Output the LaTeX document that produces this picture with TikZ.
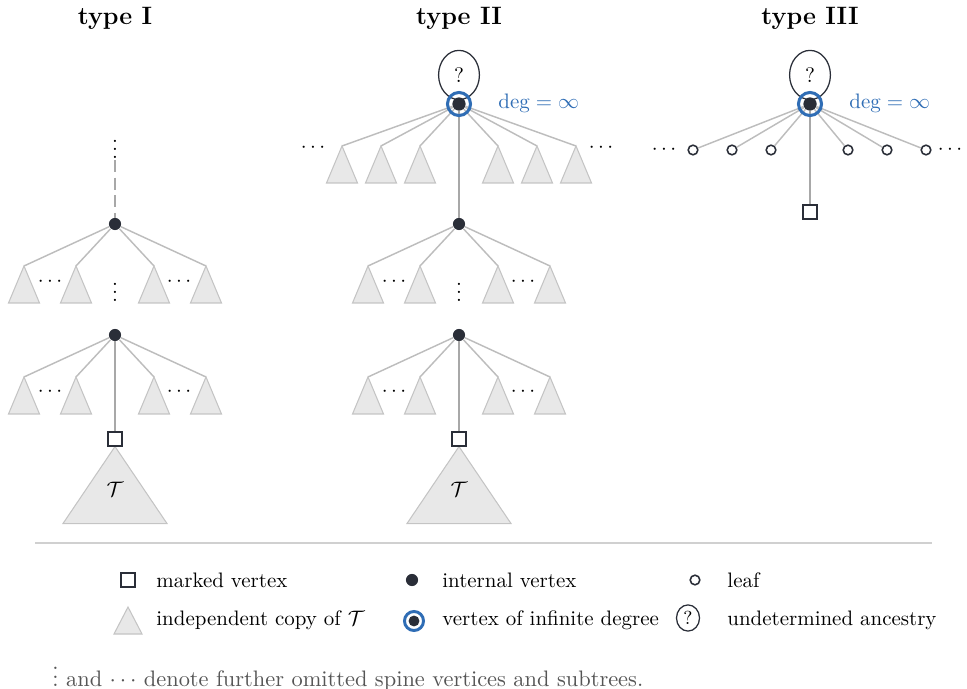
\documentclass[tikz,border=0pt]{standalone}
\usetikzlibrary{shapes.geometric}
\definecolor{edgegray}{HTML}{BDBDBD}
\definecolor{spinegray}{HTML}{A8A8A8}
\definecolor{trifill}{HTML}{E8E8E8}
\definecolor{tridraw}{HTML}{C4C4C4}
\definecolor{nodedark}{HTML}{2A2E38}
\definecolor{infblue}{HTML}{2F6DB5}
\definecolor{notegray}{HTML}{555555}
\definecolor{rulegray}{HTML}{D0D0D0}
\newcommand\subtree[1]{\path[tri] (#1) -- ++(-15.5,37) -- ++(31,0) -- cycle;}
\newcommand\lowerpart[2]{%
  \node[internal] (#2n1) at (#1,224) {};
  \coordinate (#2ta) at (#1-91,266);
  \coordinate (#2tb) at (#1-39,266);
  \coordinate (#2tc) at (#1+39,266);
  \coordinate (#2td) at (#1+91,266);
  \draw[edge] (#2n1) -- (#2ta) (#2n1) -- (#2tb) (#2n1) -- (#2tc) (#2n1) -- (#2td);
  \subtree{#2ta}\subtree{#2tb}\subtree{#2tc}\subtree{#2td}
  \node[dots] at (#1-65,282) {$\cdots$};
  \node[dots] at (#1+64,282) {$\cdots$};
  \node[dots] at (#1,286) {$\vdots$};
  \node[internal] (#2n2) at (#1,335) {};
  \coordinate (#2ua) at (#1-91,377);
  \coordinate (#2ub) at (#1-39,377);
  \coordinate (#2uc) at (#1+39,377);
  \coordinate (#2ud) at (#1+91,377);
  \draw[edge] (#2n2) -- (#2ua) (#2n2) -- (#2ub) (#2n2) -- (#2uc) (#2n2) -- (#2ud);
  \subtree{#2ua}\subtree{#2ub}\subtree{#2uc}\subtree{#2ud}
  \node[dots] at (#1-65,392) {$\cdots$};
  \node[dots] at (#1+64,392) {$\cdots$};
  \node[marked] (#2m) at (#1,439) {};
  \draw[spine] (#2n2) -- (#2m);
  \path[tri] (#2m.south) -- ++(-52,77) -- ++(104,0) -- cycle;
  \node at (#1,489) {$\mathcal{T}$};
  \node[marked] at (#2m) {};
}
\begin{document}
\begin{tikzpicture}[x=0.4775pt,y=-0.4775pt,
  internal/.style={circle,fill=nodedark,inner sep=0pt,minimum size=5.8pt},
  bigdot/.style={circle,fill=nodedark,inner sep=0pt,minimum size=6.2pt},
  infring/.style={circle,draw=infblue,line width=1.45pt,inner sep=0pt,minimum size=11pt},
  legring/.style={circle,draw=infblue,line width=1.4pt,inner sep=0pt,minimum size=9.1pt},
  leaf/.style={circle,draw=nodedark,fill=white,line width=0.75pt,inner sep=0pt,minimum size=4.6pt},
  marked/.style={rectangle,draw=nodedark,fill=white,line width=0.9pt,inner sep=0pt,minimum size=6.3pt},
  anc/.style={ellipse,draw=nodedark,line width=0.6pt,minimum width=19.5pt,minimum height=23.5pt,inner sep=0pt},
  edge/.style={draw=edgegray,line width=0.7pt},
  spine/.style={draw=spinegray,line width=1.25pt},
  tri/.style={fill=trifill,draw=tridraw,line width=0.5pt},
  dots/.style={inner sep=0pt},
  title/.style={font=\large\bfseries},
  legtext/.style={anchor=west,inner sep=0pt}
]
\useasboundingbox (0,0) rectangle (967,689);

% titles
\node[title] at (115,18) {type I};
\node[title] at (459,18) {type II};
\node[title] at (810,18) {type III};

% ---------- type I ----------
\lowerpart{115}{A}
\node[dots] (Atopdots) at (115,143) {$\vdots$};
\coordinate (Adash) at (115,160);
\draw[spine,dashed,dash pattern=on 5.8pt off 2.6pt] (Adash) -- (An1);

% ---------- type II ----------
\lowerpart{459}{B}
\node[anc] (Bq) at (459,75) {?};
\node[bigdot] (Broot) at (459,104) {};
\node[text=infblue,anchor=west] at (491,103) {$\deg=\infty$};
\foreach \x/\k in {342/a,381/b,420/c,498/d,537/e,576/f}{
  \coordinate (Bs\k) at (\x,146);
  \draw[edge] (Broot) -- (Bs\k);
  \subtree{Bs\k}
}
\draw[spine] (Broot) -- (Bn1);
\node[bigdot] at (Broot) {};
\node[infring] (Bring) at (Broot) {};
\node[dots] at (313,148) {$\cdots$};
\node[dots] at (601,148) {$\cdots$};

% ---------- type III ----------
\node[anc] (Cq) at (810,75) {?};
\node[bigdot] (Croot) at (810,104) {};
\node[text=infblue,anchor=west] at (842,103) {$\deg=\infty$};
\node[marked] (Cm) at (810,212) {};
\draw[spine] (Croot) -- (Cm);
\foreach \x/\k in {693/a,732/b,771/c,848/d,887/e,926/f}{
  \node[leaf] (Cl\k) at (\x,150) {};
  \draw[edge] (Croot) -- (Cl\k);
}
\node[bigdot] at (Croot) {};
\node[infring] (Cring) at (Croot) {};
\node[dots] at (664,150) {$\cdots$};
\node[dots] at (950,150) {$\cdots$};

% ---------- separator ----------
\draw[draw=rulegray,line width=0.5pt] (35,543) -- (932,543);

% ---------- legend ----------
\node[marked] (Lm) at (128,580) {};
\node[legtext] at (156,580) {marked vertex};
\node[internal] (Li) at (412,580) {};
\node[legtext] at (442,580) {internal vertex};
\node[leaf] (Ll) at (695,580) {};
\node[legtext] at (727,580) {leaf};

\coordinate (Lt) at (128,607);
\path[tri] (Lt) -- ++(-14,27) -- ++(28,0) -- cycle;
\node[legtext] at (156,620) {independent copy of $\mathcal{T}$};
\node[circle,fill=nodedark,inner sep=0pt,minimum size=5.2pt] (Linf) at (414,621) {};
\node[legring] at (Linf) {};
\node[legtext] at (442,620) {vertex of infinite degree};
\node[ellipse,draw=nodedark,line width=0.6pt,inner sep=0pt,minimum width=11pt,minimum height=12.5pt] (Lq) at (688,618) {\small ?};
\node[legtext] at (727,620) {undetermined ancestry};

% ---------- note ----------
\node[anchor=west,text=notegray,inner sep=0pt,font=\fontsize{10.7}{13}\selectfont] at (52,673) {$\vdots$ and $\cdots$ denote further omitted spine vertices and subtrees.};
\end{tikzpicture}
\end{document}
